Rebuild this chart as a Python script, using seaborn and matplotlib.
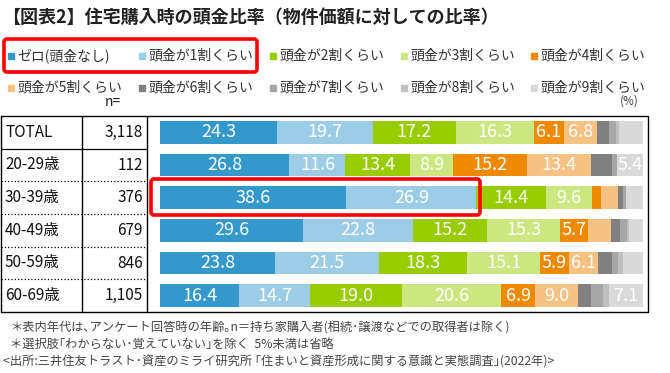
import pandas as pd
import seaborn as sns
import matplotlib.pyplot as plt
from matplotlib.patches import Rectangle, FancyBboxPatch

sns.set_theme(style="white")
plt.rcParams['font.family'] = ['Noto Sans CJK JP', 'DejaVu Sans']

# data
groups = ['TOTAL', '20-29歳', '30-39歳', '40-49歳', '50-59歳', '60-69歳']
n_counts = ['3,118', '112', '376', '679', '846', '1,105']
series = ['ゼロ(頭金なし)', '頭金が1割くらい', '頭金が2割くらい', '頭金が3割くらい', '頭金が4割くらい',
          '頭金が5割くらい', '頭金が6割くらい', '頭金が7割くらい', '頭金が8割くらい', '頭金が9割くらい']
zero = [24.3, 26.8, 38.6, 29.6, 23.8, 16.4]
r1 = [19.7, 11.6, 26.9, 22.8, 21.5, 14.7]
r2 = [17.2, 13.4, 14.4, 15.2, 18.3, 19.0]
r3 = [16.3, 8.9, 9.6, 15.3, 15.1, 20.6]
r4 = [6.1, 15.2, 1.9, 5.7, 5.9, 6.9]
r5 = [6.8, 13.4, 3.4, 4.8, 6.1, 9.0]
r6 = [2.5, 4.3, 1.0, 1.9, 2.8, 2.6]
r7 = [1.5, 1.0, 0.7, 1.3, 1.4, 2.5]
r8 = [0.7, 0.0, 0.0, 0.6, 1.0, 1.2]
r9 = [4.9, 5.4, 3.5, 2.8, 4.1, 7.1]
values = [zero, r1, r2, r3, r4, r5, r6, r7, r8, r9]

colors = ['#3399cc', '#9ccde6', '#99cc00', '#cce681', '#ef8a00',
          '#f6c283', '#808080', '#a6a6a6', '#bfbfbf', '#d9d9d9']

df = pd.DataFrame({s: v for s, v in zip(series, values)}, index=groups)
cum = df.cumsum(axis=1)

W, H = 670, 373
fig = plt.figure(figsize=(W / 100, H / 100), dpi=100)

top, bot = 116, 312
bx0, bx1 = 160, 643
ax = fig.add_axes([bx0 / W, 1 - bot / H, (bx1 - bx0) / W, (bot - top) / H])

# stacked bars: draw cumulative totals from the last series backwards
for s, c in reversed(list(zip(series, colors))):
    d = pd.DataFrame({'group': groups, 'cum': cum[s].values})
    sns.barplot(data=d, x='cum', y='group', color=c, saturation=1, width=0.69,
                errorbar=None, orient='h', ax=ax, linewidth=0)

for i, g in enumerate(groups):
    for s in series:
        v = df.loc[g, s]
        if v >= 5:
            ax.text(cum.loc[g, s] - v / 2, i, f'{v:.1f}', color='white', ha='center',
                    va='center', fontsize=13)
ax.set_xlim(0, 100)
ax.axis('off')

# overlay in pixel coordinates
ov = fig.add_axes([0, 0, 1, 1], zorder=5)
ov.set_xlim(0, W)
ov.set_ylim(H, 0)
ov.axis('off')
ov.patch.set_visible(False)

ov.text(2, 17, '【図表2】住宅購入時の頭金比率（物件価額に対しての比率）', fontsize=13,
        fontweight='bold', va='center', ha='left', color='#222222')

# legend
leg_x = [8, 139, 270, 401, 531]
for k, (s, c) in enumerate(zip(series, colors)):
    x = leg_x[k % 5]
    y = 56 if k < 5 else 88
    ov.add_patch(Rectangle((x, y - 3), 6, 6, color=c))
    ov.text(x + 9, y, s, fontsize=10, va='center', ha='left', color='#333333')

ov.add_patch(FancyBboxPatch((4, 39), 253, 33, boxstyle='round,pad=0,rounding_size=3',
                            fill=False, ec='#ff0000', lw=2.6))

ov.text(113, 102, 'n=', fontsize=10, ha='center', va='center', color='#222222')
ov.text(629, 101, '(%)', fontsize=8.5, ha='center', va='center', color='#444444')

# table frame
row_h = (bot - top) / len(groups)
ov.plot([1, 648, 648, 1, 1], [top, top, bot, bot, top], color='black', lw=1)
for x in [82, 147]:
    ov.plot([x, x], [top, bot], color='black', lw=1)
for k in range(1, len(groups)):
    y = top + k * row_h
    ov.plot([1, 147], [y, y], color='black', lw=0.9, ls='-' if k == 1 else ':')

for i, (g, n) in enumerate(zip(groups, n_counts)):
    y = top + (i + 0.5) * row_h
    ov.text(5, y, g, fontsize=11, ha='left', va='center', color='#111111')
    ov.text(143, y, n, fontsize=11, ha='right', va='center', color='#111111')

ov.add_patch(FancyBboxPatch((151, 179), 329, 36, boxstyle='round,pad=0,rounding_size=3',
                            fill=False, ec='#ff0000', lw=2.6))

notes = ['＊表内年代は､アンケート回答時の年齢｡n＝持ち家購入者(相続･譲渡などでの取得者は除く)',
         '＊選択肢｢わからない･覚えていない｣を除く  5%未満は省略',
         '<出所:三井住友トラスト･資産のミライ研究所 ｢住まいと資産形成に関する意識と実態調査｣(2022年)>']
for k, t in enumerate(notes):
    ov.text(10 if k < 2 else 3, 327 + k * 17.5, t, fontsize=8.8, ha='left', va='center',
            color='#444444')

fig.savefig('out.png', dpi=100)
